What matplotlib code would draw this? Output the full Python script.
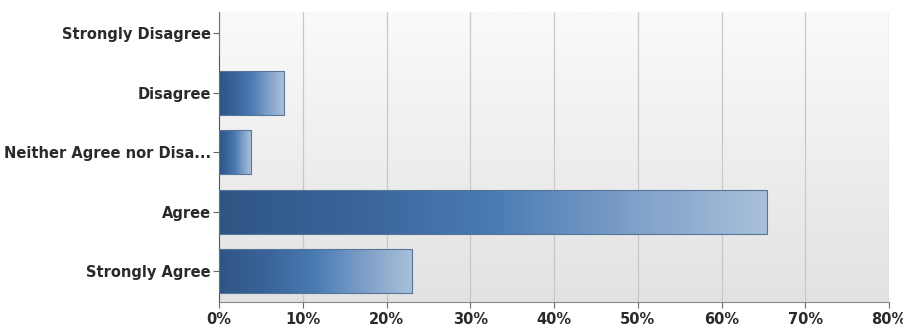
import numpy as np
import matplotlib.pyplot as plt
from matplotlib.colors import LinearSegmentedColormap

categories = ["Strongly Agree", "Agree", "Neither Agree nor Disa...", "Disagree", "Strongly Disagree"]
values = [23.1, 65.4, 3.8, 7.7, 0.0]
xticks = [0, 10, 20, 30, 40, 50, 60, 70, 80]

plt.rcParams["font.family"] = ["DejaVu Sans"]

bar_cmap = LinearSegmentedColormap.from_list(
    "bar", ["#2f5584", "#3a649a", "#4a7bb3", "#7d9fc8", "#a9c0da"]
)
bg_cmap = LinearSegmentedColormap.from_list("bg", ["#e2e2e2", "#fafafa"])

fig = plt.figure(figsize=(9.04, 3.36), dpi=100)
ax = fig.add_axes([0.2423, 0.101, 0.7411, 0.863])

ypos = np.arange(len(categories))
bars = ax.barh(ypos, values, height=0.74, color="none", edgecolor="#557599",
               linewidth=0.8, zorder=3)

ylim = (-0.52, len(categories) - 1 + 0.36)

# background gradient
ax.imshow(np.linspace(0, 1, 256).reshape(-1, 1), cmap=bg_cmap, aspect="auto",
          extent=(0, 80, ylim[0], ylim[1]), origin="lower", zorder=0)

grad = np.linspace(0, 1, 256).reshape(1, -1)
for bar in bars:
    w = bar.get_width()
    if w <= 0:
        continue
    y0 = bar.get_y()
    ax.imshow(grad, cmap=bar_cmap, aspect="auto",
              extent=(0, w, y0, y0 + bar.get_height()), zorder=2)

ax.set_xlim(0, 80)
ax.set_ylim(*ylim)

for x in xticks[1:]:
    ax.axvline(x, color="#c8c8c8", linewidth=0.9, zorder=1)

ax.set_yticks(ypos)
ax.set_yticklabels(categories, fontsize=10.5, fontweight="bold", color="#2a2a2a")
ax.set_xticks(xticks)
ax.set_xticklabels([f"{v}%" for v in xticks], fontsize=10.5, fontweight="bold", color="#2a2a2a")
ax.tick_params(axis="y", length=4, color="#666666", pad=2)
ax.tick_params(axis="x", length=4, color="#666666", pad=3)

for side in ("top", "right"):
    ax.spines[side].set_visible(False)
ax.spines["left"].set_color("#555555")
ax.spines["bottom"].set_color("#888888")

fig.savefig("out.png", dpi=100)
